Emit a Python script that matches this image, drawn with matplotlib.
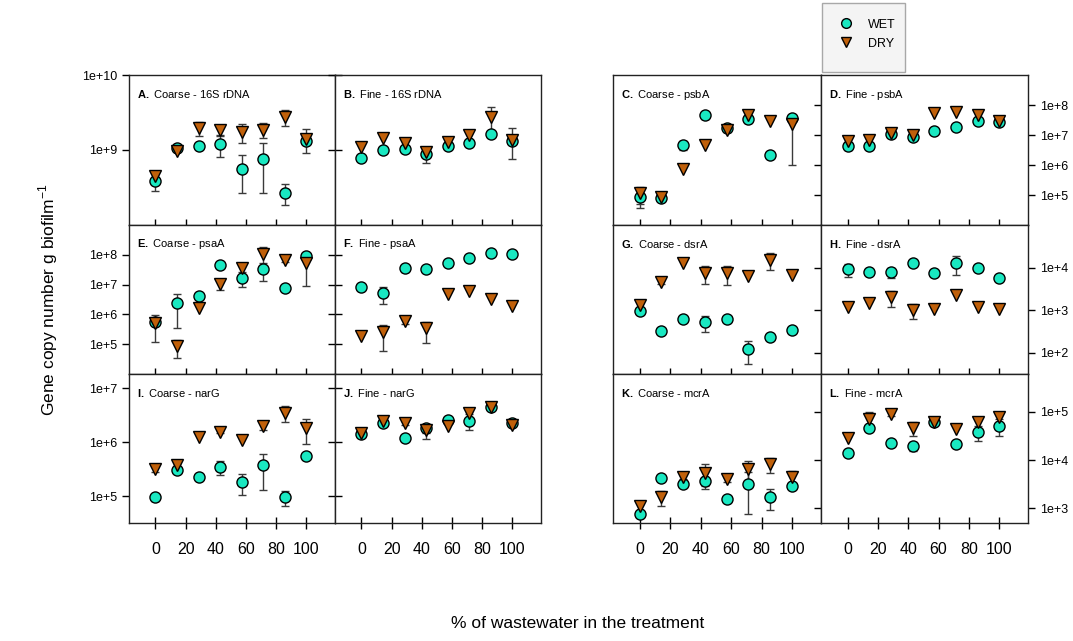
import numpy as np
import matplotlib
matplotlib.use("Agg")
import matplotlib.pyplot as plt
from matplotlib.lines import Line2D
from matplotlib.patches import Rectangle

plt.rcParams["font.family"] = ["Liberation Sans", "DejaVu Sans"]
plt.rcParams["mathtext.fontset"] = "custom"
plt.rcParams["mathtext.rm"] = "Liberation Sans"
plt.rcParams["mathtext.bf"] = "Liberation Sans:bold"

W, H = 1073, 641
WET_COLOR = "#19e8c1"
DRY_COLOR = "#c0600a"
ERR_COLOR = "#3a3a3a"

# % wastewater in each treatment
x_pct = [0, 14.3, 28.6, 42.9, 57.1, 71.4, 85.7, 100]
x_ticks = [0, 20, 40, 60, 80, 100]

# gene copies per g biofilm (mean) and standard error, per panel
wet_A = [3.9e8, 1.07e9, 1.12e9, 1.2e9, 5.6e8, 7.6e8, 2.7e8, 1.3e9]
dry_A = [4.5e8, 9.8e8, 1.95e9, 1.86e9, 1.74e9, 1.86e9, 2.75e9, 1.41e9]
wet_err_A = [1.1e8, 0, 0, 4e8, 2.9e8, 4.9e8, 0.85e8, 0]
dry_err_A = [0.5e8, 0, 0.4e9, 0.3e9, 0.5e9, 0.4e9, 0.65e9, 0.5e9]

wet_B = [7.8e8, 1.0e9, 1.02e9, 8.9e8, 1.12e9, 1.23e9, 1.62e9, 1.32e9]
dry_B = [1.1e9, 1.45e9, 1.23e9, 9.3e8, 1.29e9, 1.58e9, 2.75e9, 1.35e9]
wet_err_B = [0, 0, 0, 2.1e8, 0, 0, 0, 0]
dry_err_B = [0, 0, 0.2e9, 0, 0, 0.2e9, 0.95e9, 0.6e9]

wet_C = [8.5e4, 7.9e4, 4.7e6, 4.7e7, 1.7e7, 3.4e7, 2.1e6, 3.7e7]
dry_C = [1.2e5, 8.5e4, 7.4e5, 4.7e6, 1.5e7, 4.7e7, 3.0e7, 2.3e7]
wet_err_C = [4.8e4, 0, 1.5e6, 1.2e7, 4e6, 0, 0, 0]
dry_err_C = [0.7e5, 0, 0, 0, 0, 2.1e7, 0, 2.2e7]

wet_D = [4.3e6, 4.3e6, 1.07e7, 8.5e6, 1.35e7, 1.86e7, 2.95e7, 2.7e7]
dry_D = [6.3e6, 6.8e6, 1.17e7, 1.0e7, 5.4e7, 5.9e7, 4.7e7, 2.95e7]
wet_err_D = [1.2e6, 0, 0, 1.5e6, 0, 0, 0, 0]
dry_err_D = [0, 0, 1.5e6, 0, 0, 0, 0, 4e6]

wet_E = [5.4e5, 2.5e6, 4.3e6, 4.7e7, 1.7e7, 3.4e7, 7.9e6, 9.3e7]
dry_E = [5.0e5, 8.5e4, 1.7e6, 1.07e7, 3.7e7, 1.07e8, 6.8e7, 5.4e7]
wet_err_E = [4.2e5, 2.16e6, 0, 0, 0.9e7, 2.05e7, 0, 0]
dry_err_E = [0, 5e4, 0, 4e6, 0, 0.8e8, 0.1e8, 4.5e7]

wet_F = [8.5e6, 5.4e6, 3.7e7, 3.4e7, 5.4e7, 7.9e7, 1.17e8, 1.07e8]
dry_F = [1.86e5, 2.5e5, 5.9e5, 3.4e5, 5.0e6, 5.9e6, 3.4e6, 1.86e6]
wet_err_F = [0, 3.1e6, 1e7, 0, 0, 0, 0, 1.5e7]
dry_err_F = [0, 1.9e5, 1e5, 2.3e5, 0, 0, 0, 0]

wet_G = [955, 324, 617, 525, 617, 120, 229, 339]
dry_G = [1318, 4570, 12600, 7400, 7400, 6300, 15100, 6600]
wet_err_G = [0, 0, 0, 220, 0, 65, 0, 0]
dry_err_G = [0, 500, 0, 3300, 3500, 0, 6500, 0]

wet_H = [9100, 7800, 7800, 12600, 7400, 12600, 9800, 5600]
dry_H = [1175, 1445, 2000, 1000, 1050, 2240, 1175, 1050]
wet_err_H = [3000, 0, 2000, 0, 0, 6000, 0, 0]
dry_err_H = [0, 0, 800, 380, 0, 0, 0, 0]

wet_I = [9.5e4, 3.0e5, 2.24e5, 3.5e5, 1.8e5, 3.7e5, 9.5e4, 5.5e5]
dry_I = [3.2e5, 3.7e5, 1.23e6, 1.55e6, 1.1e6, 2.0e6, 3.5e6, 1.8e6]
wet_err_I = [1.5e4, 0, 0, 1e5, 0.75e5, 2.4e5, 3e4, 0]
dry_err_I = [0.4e5, 0.4e5, 0, 0.1e6, 0, 0.3e6, 1.2e6, 0.9e6]

wet_J = [1.4e6, 2.24e6, 1.17e6, 1.8e6, 2.6e6, 2.45e6, 4.5e6, 2.24e6]
dry_J = [1.48e6, 2.45e6, 2.24e6, 1.66e6, 2.0e6, 3.5e6, 4.5e6, 2.04e6]
wet_err_J = [0, 0, 0, 0.3e6, 0, 0.8e6, 0, 0]
dry_err_J = [0, 0, 0.2e6, 0.5e6, 0, 0, 0, 0]

wet_K = [740, 4200, 3200, 3600, 1550, 3200, 1700, 2900]
dry_K = [1100, 1700, 4500, 5400, 4000, 6500, 8300, 4500]
wet_err_K = [0, 0, 0, 700, 0, 2460, 800, 0]
dry_err_K = [0, 600, 500, 2900, 500, 3000, 2900, 1500]

wet_L = [1.4e4, 4.7e4, 2.24e4, 1.95e4, 6.2e4, 2.14e4, 3.8e4, 5.1e4]
dry_L = [2.9e4, 7.1e4, 9.1e4, 4.7e4, 6.2e4, 4.5e4, 6.2e4, 7.9e4]
wet_err_L = [0, 0, 0, 4e3, 0, 0, 1.3e4, 1.9e4]
dry_err_L = [0, 2.9e4, 8e3, 1.5e4, 0, 0, 0, 0]

panels = [
    ("A", "Coarse - 16S rDNA", wet_A, dry_A, wet_err_A, dry_err_A),
    ("B", "Fine - 16S rDNA", wet_B, dry_B, wet_err_B, dry_err_B),
    ("C", "Coarse - psbA", wet_C, dry_C, wet_err_C, dry_err_C),
    ("D", "Fine - psbA", wet_D, dry_D, wet_err_D, dry_err_D),
    ("E", "Coarse - psaA", wet_E, dry_E, wet_err_E, dry_err_E),
    ("F", "Fine - psaA", wet_F, dry_F, wet_err_F, dry_err_F),
    ("G", "Coarse - dsrA", wet_G, dry_G, wet_err_G, dry_err_G),
    ("H", "Fine - dsrA", wet_H, dry_H, wet_err_H, dry_err_H),
    ("I", "Coarse - narG", wet_I, dry_I, wet_err_I, dry_err_I),
    ("J", "Fine - narG", wet_J, dry_J, wet_err_J, dry_err_J),
    ("K", "Coarse - mcrA", wet_K, dry_K, wet_err_K, dry_err_K),
    ("L", "Fine - mcrA", wet_L, dry_L, wet_err_L, dry_err_L),
]

# y range (log10) and tick exponents for each row, left pair / right pair
ylims = [
    [((8, 10), [9, 10]), ((4, 9), [5, 6, 7, 8])],
    [((4, 9), [5, 6, 7, 8]), ((1.5, 5), [2, 3, 4])],
    [((4.5, 7.26), [5, 6, 7]), ((2.69, 5.79), [3, 4, 5])],
]

col_px = [(129, 335), (335, 541), (613, 821), (821, 1028)]
row_px = [(75, 225), (225, 374), (374, 523)]

fig = plt.figure(figsize=(W / 100, H / 100), dpi=100)


def px_axes(x0, y0, x1, y1):
    return fig.add_axes([x0 / W, 1 - y1 / H, (x1 - x0) / W, (y1 - y0) / H])


for i, (letter, name, wet, dry, wet_err, dry_err) in enumerate(panels):
    r, c = divmod(i, 4)
    ax = px_axes(col_px[c][0], row_px[r][0], col_px[c][1], row_px[r][1])
    (lo, hi), exps = ylims[r][c // 2]
    ax.set_yscale("log")
    ax.set_ylim(10 ** lo, 10 ** hi)
    ax.set_xlim(-17.5, 119)

    x = np.array(x_pct)
    for vals, errs in ((wet, wet_err), (dry, dry_err)):
        vals = np.array(vals, dtype=float)
        errs = np.array(errs, dtype=float)
        m = errs > 0
        ax.errorbar(x[m], vals[m], yerr=errs[m], fmt="none", ecolor=ERR_COLOR,
                    elinewidth=1.0, capsize=3, capthick=1.0, zorder=2)
    ax.plot(x, wet, "o", ms=8, mfc=WET_COLOR, mec="black", mew=1.0, zorder=3)
    ax.plot(x, dry, "v", ms=9, mfc=DRY_COLOR, mec="black", mew=1.0, zorder=4)

    ax.text(0.04, 0.87, r"$\mathbf{" + letter + r".}$ " + name,
            transform=ax.transAxes, fontsize=8, ha="left", va="center")

    ax.minorticks_off()
    ax.set_yticks([10.0 ** e for e in exps])
    ax.set_yticklabels([f"1e+{e}" for e in exps])
    ax.set_xticks(x_ticks)
    ax.tick_params(axis="x", direction="inout", length=9, width=1, pad=9,
                   labelsize=11.5, labelbottom=(r == 2))
    for s in ax.spines.values():
        s.set_linewidth(1.0)
        s.set_color("#222222")

    if c == 0:
        ax.tick_params(axis="y", left=True, right=False, labelleft=True,
                       labelright=False, direction="out", length=5, width=1,
                       labelsize=9)
    elif c == 1:
        ax.tick_params(axis="y", left=True, right=False, labelleft=False,
                       direction="inout", length=10, width=1)
    elif c == 2:
        ax.tick_params(axis="y", left=False, right=True, labelleft=False,
                       labelright=False, direction="inout", length=10, width=1)
    else:
        ax.tick_params(axis="y", left=False, right=True, labelleft=False,
                       labelright=True, direction="out", length=5, width=1,
                       labelsize=9)

fig.text(48 / W, 1 - 300 / H, "Gene copy number g biofilm$^{-1}$", rotation=90,
         ha="center", va="center", fontsize=12.5)
fig.text(578 / W, 1 - 623 / H, "% of wastewater in the treatment",
         ha="center", va="center", fontsize=12.5)

# legend box
fig.patches.append(Rectangle((822 / W, 1 - 72 / H), 83 / W, 69 / H,
                             transform=fig.transFigure, facecolor="#f4f4f4",
                             edgecolor="#a8a8a8", linewidth=1.0))
handles = [
    Line2D([], [], ls="none", marker="o", ms=7, mfc=WET_COLOR, mec="black", label="WET"),
    Line2D([], [], ls="none", marker="v", ms=7.5, mfc=DRY_COLOR, mec="black", label="DRY"),
]
fig.legend(handles=handles, loc="upper left", bbox_to_anchor=(828 / W, 1 - 10 / H),
           frameon=False, fontsize=9, handletextpad=1.0, borderpad=0.2,
           labelspacing=0.55, handlelength=1.5)

fig.savefig("out.png", dpi=100)
